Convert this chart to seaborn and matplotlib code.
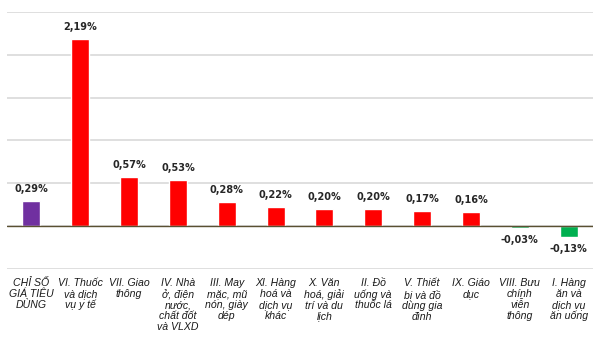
import matplotlib
matplotlib.use("Agg")
import matplotlib.pyplot as plt
import seaborn as sns
import pandas as pd

categories = [
    "CHỈ SỐ\nGIÁ TIÊU\nDÙNG",
    "VI. Thuốc\nvà dịch\nvụ y tế",
    "VII. Giao\nthông",
    "IV. Nhà\nở, điện\nnước,\nchất đốt\nvà VLXD",
    "III. May\nmặc, mũ\nnón, giày\ndép",
    "XI. Hàng\nhoá và\ndịch vụ\nkhác",
    "X. Văn\nhoá, giải\ntrí và du\nlịch",
    "II. Đồ\nuống và\nthuốc lá",
    "V. Thiết\nbị và đồ\ndùng gia\nđình",
    "IX. Giáo\ndục",
    "VIII. Bưu\nchính\nviễn\nthông",
    "I. Hàng\năn và\ndịch vụ\năn uống",
]
values = [0.29, 2.19, 0.57, 0.53, 0.28, 0.22, 0.20, 0.20, 0.17, 0.16, -0.03, -0.13]
value_labels = ["0,29%", "2,19%", "0,57%", "0,53%", "0,28%", "0,22%", "0,20%",
                "0,20%", "0,17%", "0,16%", "-0,03%", "-0,13%"]
colors = ["#7030A0"] + ["#FF0000"] * 9 + ["#00B050"] * 2

sns.set_style("white")
plt.rcParams['font.family'] = ['Liberation Sans', 'DejaVu Sans']

df = pd.DataFrame({"cat": categories, "val": values})

fig = plt.figure(figsize=(6, 3.46), dpi=100)
ax = fig.add_axes([7/600, (346-268.5)/346, 586/600, (268.5-12)/346])

sns.barplot(data=df, x="cat", y="val", hue="cat", palette=colors,
            legend=False, width=0.37, saturation=1, ax=ax)

ax.set_ylim(-0.5, 2.5)
ax.set_yticks([-0.5, 0, 0.5, 1.0, 1.5, 2.0, 2.5])
ax.yaxis.grid(True, color="#d9d9d9", linewidth=1.2)
ax.set_axisbelow(True)
ax.axhline(0, color="#5a5032", linewidth=1.0, zorder=3)
ax.set_yticklabels([])
ax.tick_params(axis="y", length=0)
ax.tick_params(axis="x", length=0, pad=7)
for s in ax.spines.values():
    s.set_visible(False)
ax.set_xlabel("")
ax.set_ylabel("")
ax.set_xlim(-0.5, len(categories) - 0.5)

ax.set_xticks(range(len(categories)))
ax.set_xticklabels(categories, fontsize=7.6, style="italic", color="#1a1a1a",
                   linespacing=1.1, va="top")

for i, (v, lab) in enumerate(zip(values, value_labels)):
    if v >= 0:
        ax.annotate(lab, (i, v), xytext=(0, 5), textcoords="offset points",
                    ha="center", va="bottom", fontsize=7, fontweight="bold",
                    family="DejaVu Sans")
    else:
        ax.annotate(lab, (i, v), xytext=(0, -5), textcoords="offset points",
                    ha="center", va="top", fontsize=7, fontweight="bold",
                    family="DejaVu Sans")

fig.savefig("out.png", dpi=100)
